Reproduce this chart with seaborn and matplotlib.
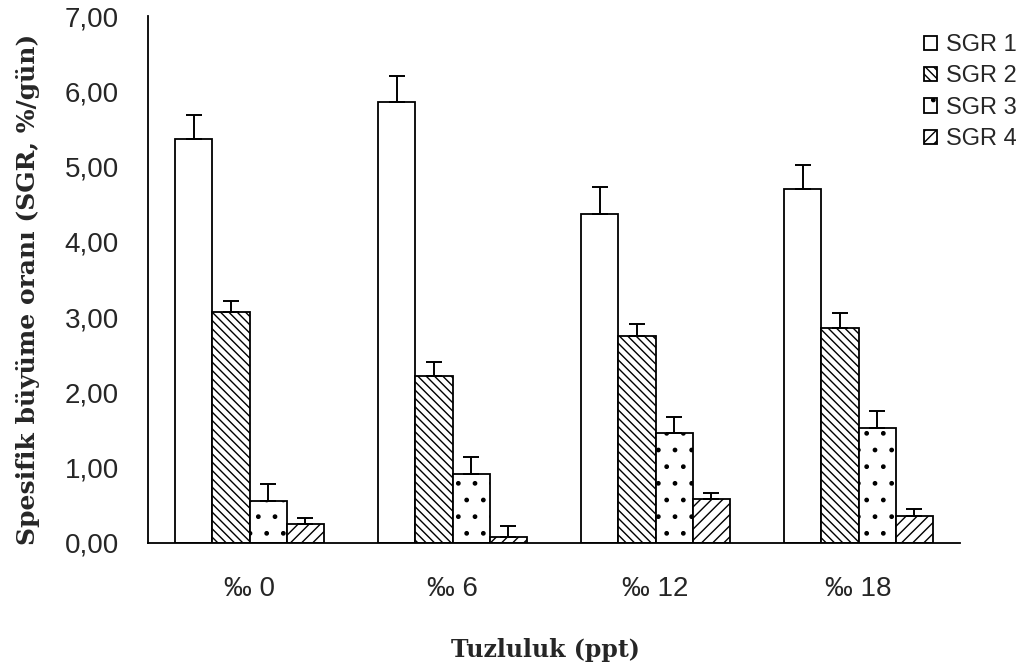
import matplotlib
matplotlib.use("Agg")
import matplotlib.pyplot as plt
import seaborn as sns
import pandas as pd
import numpy as np

# ---- data ----
groups = ['‰ 0', '‰ 6', '‰ 12', '‰ 18']
series = ['SGR 1', 'SGR 2', 'SGR 3', 'SGR 4']
sgr1 = [5.37, 5.86, 4.37, 4.70]
sgr2 = [3.07, 2.22, 2.75, 2.86]
sgr3 = [0.56, 0.92, 1.46, 1.53]
sgr4 = [0.25, 0.08, 0.58, 0.36]
err1 = [0.32, 0.34, 0.36, 0.32]
err2 = [0.15, 0.18, 0.16, 0.19]
err3 = [0.22, 0.22, 0.21, 0.22]
err4 = [0.08, 0.15, 0.08, 0.09]
y_ticks = [0, 1, 2, 3, 4, 5, 6, 7]

values = [sgr1, sgr2, sgr3, sgr4]
errors = [err1, err2, err3, err4]

rows = []
for s, vals in zip(series, values):
    for g, v in zip(groups, vals):
        rows.append({'group': g, 'series': s, 'value': v})
df = pd.DataFrame(rows)

sns.set_style("white")
plt.rcParams['hatch.linewidth'] = 1.0
plt.rcParams['font.family'] = ['Liberation Sans', 'DejaVu Sans']

fig = plt.figure(figsize=(10.26, 6.71), dpi=100)
ax = fig.add_axes([148/1026, 1-543/671, (960-148)/1026, (543-16)/671])

sns.barplot(data=df, x='group', y='value', hue='series', order=groups,
            hue_order=series, palette=['white']*4, edgecolor='black',
            linewidth=1.3, width=0.73, gap=0, errorbar=None, legend=False, ax=ax)

bar_containers = list(ax.containers)
hatches = ['', '\\\\\\\\', '.', '///']
handles = []
for cont, h, errs in zip(bar_containers, hatches, errors):
    xs, tops = [], []
    for p in cont.patches:
        p.set_hatch(h)
        p.set_facecolor('white')
        p.set_edgecolor('black')
        xs.append(p.get_x() + p.get_width()/2)
        tops.append(p.get_height())
    handles.append(cont.patches[0])
    ax.errorbar(xs, tops, yerr=[np.zeros(len(errs)), errs], fmt='none',
                ecolor='black', elinewidth=1.4, capsize=6, capthick=1.4, zorder=3)

ax.set_ylim(0, 7)
ax.set_xlim(-0.5, 3.5)
ax.set_yticks(y_ticks)
ax.set_yticklabels([f"{t:.2f}".replace('.', ',') for t in y_ticks], fontsize=20)
ax.set_xticks(range(len(groups)))
ax.set_xticklabels(groups, fontsize=20)
ax.set_xticks(np.arange(-0.5, 4.0, 1.0), minor=True)
ax.tick_params(axis='x', which='major', length=0, pad=24)
ax.tick_params(axis='x', which='minor', length=7, width=1.3, direction='out', color='black')
ax.tick_params(axis='y', which='major', length=7, width=1.3, direction='out', color='black', pad=14)

for side in ['top', 'right']:
    ax.spines[side].set_visible(False)
for side in ['left', 'bottom']:
    ax.spines[side].set_color('black')
    ax.spines[side].set_linewidth(1.3)

ax.set_xlabel('Tuzluluk (ppt)', fontsize=17, fontweight='bold',
              family=['DejaVu Serif'])
ax.xaxis.set_label_coords((545-148)/812, (543-638)/527)
ax.xaxis.label.set_va('top')
ax.set_ylabel('Spesifik büyüme oranı (SGR, %/gün)', fontsize=18, fontweight='bold',
              family=['DejaVu Serif'])
ax.yaxis.set_label_coords((40-148)/812, 1-(289-16)/527)

fig.legend(handles, series, loc='upper left', bbox_to_anchor=(924/1026, 1-34/671),
           frameon=False, fontsize=17, handlelength=0.55, handleheight=0.55,
           handletextpad=0.4, labelspacing=0.4, borderaxespad=0, borderpad=0)

fig.savefig('out.png', dpi=100, facecolor='white')
